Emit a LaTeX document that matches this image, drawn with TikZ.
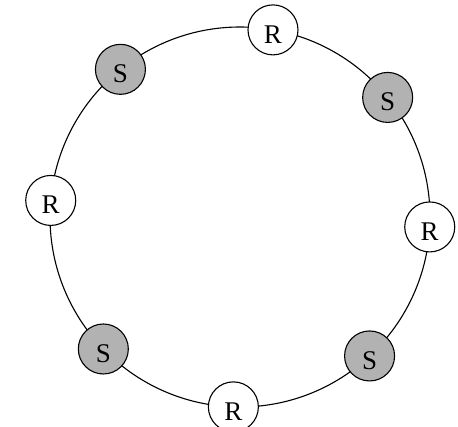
\documentclass[tikz,border=0pt]{standalone}
\usepackage{fontspec}
\setmainfont{Liberation Serif}
\begin{document}
\begin{tikzpicture}[
    x=1pt, y=1pt,
    rnode/.style={
        draw, circle, fill=white, line width=1.1pt,
        minimum size=50pt, inner sep=0pt,
        font=\fontsize{27}{32}\selectfont,
        text height=27pt, text depth=0pt
    },
    snode/.style={rnode, fill=black!30}
]

\def\rad{190pt}

\useasboundingbox (0,0) rectangle (458,426);
\coordinate (o) at (240,209);

% Ring
\draw[line width=1.1pt] (o) circle (\rad);

% R-Knoten
\node[rnode] (r1) at ([shift={(80:\rad)}]o)   {R};
\node[rnode] (r2) at ([shift={(-3:\rad)}]o)   {R};
\node[rnode] (r3) at ([shift={(-92:\rad)}]o)  {R};
\node[rnode] (r4) at ([shift={(175:\rad)}]o)  {R};

% S-Knoten
\node[snode] (s1) at ([shift={(39:\rad)}]o)   {S};
\node[snode] (s2) at ([shift={(-47:\rad)}]o)  {S};
\node[snode] (s3) at ([shift={(-136:\rad)}]o) {S};
\node[snode] (s4) at ([shift={(129:\rad)}]o)  {S};

\end{tikzpicture}
\end{document}
